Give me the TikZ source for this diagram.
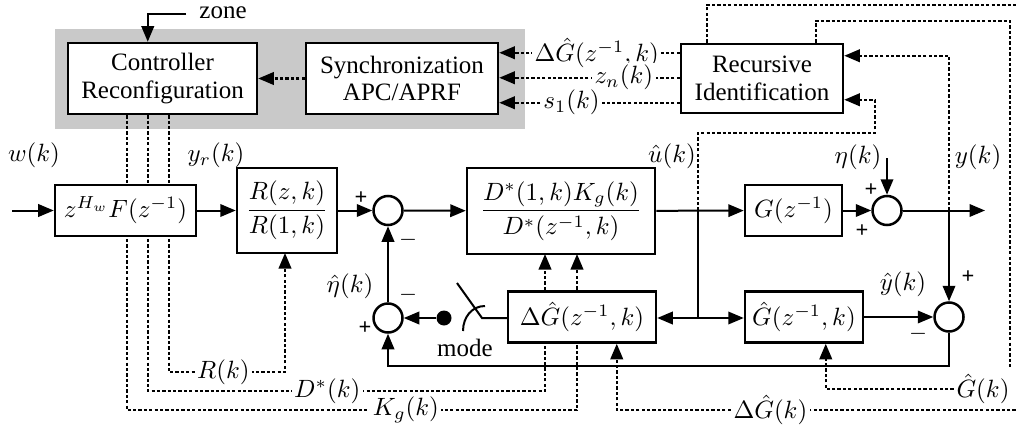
\documentclass[tikz,border=0pt]{standalone}
\usepackage{amsmath}
\usepackage{fontspec}
\setmainfont{Liberation Serif}
\usetikzlibrary{arrows.meta,calc}

\tikzset{
  blk/.style={draw, line width=1pt, fill=white, inner sep=1pt, align=center},
  sumnode/.style={draw, circle, line width=1pt, fill=white, minimum size=11.6pt, inner sep=0pt},
  tipshape/.style={-{Triangle[length=6.2pt,width=5pt]}},
  sig/.style={line width=0.8pt, tipshape},
  wire/.style={line width=0.8pt},
  dwire/.style={line width=0.85pt, dash pattern=on 1.3pt off 0.85pt},
  dsig/.style={dwire, tipshape},
  lab/.style={inner sep=1pt, font=\fontsize{10pt}{12pt}\selectfont},
  cutlab/.style={lab, fill=white},
  sgn/.style={inner sep=0pt, font=\fontsize{9pt}{10pt}\selectfont\bfseries},
}

\begin{document}
\begin{tikzpicture}[x=0.4pt, y=-0.4pt, font=\fontsize{10pt}{12pt}\selectfont]
\useasboundingbox (0,0) rectangle (1017,426);
\clip (0,0) rectangle (1017,426);

% supervisory zone
\fill[gray!42] (55,29) rectangle (525,129);

% upper blocks
\node[blk, minimum width=75.6pt, minimum height=28.4pt] (ctrl) at (162.5,78.5) {Controller\\[-1pt]Reconfiguration};
\node[blk, minimum width=76.8pt, minimum height=28.4pt] (sync) at (402,78.5) {Synchronization\\[-1pt]APC/APRF};
\node[blk, minimum width=64.8pt, minimum height=27.6pt] (rec) at (762,78.5) {Recursive\\[-1pt]Identification};

% junction and helper points
\coordinate (in)   at (12,210.5);
\coordinate (out)  at (985,210.5);
\coordinate (ju)   at (698,210.5);
\coordinate (jl)   at (698,318);
\coordinate (jy)   at (949,210.5);
\coordinate (etain) at (887,158);
\coordinate (zonept) at (186,14);
\coordinate (fbl)  at (388,366);
\coordinate (pivot) at (482,318);
\coordinate (tip)  at (457,283);
\coordinate (cu1)  at (875,133);
\coordinate (cTR)  at (1021,5);
\coordinate (cBR)  at (1021,410);
\coordinate (cG1)  at (1010,21);
\coordinate (cG2)  at (1010,367);
\coordinate (cR)   at (285,372);
\coordinate (cD)   at (545,391);
\coordinate (cK)   at (577,410);

% dashed signals from the controller (drawn below the blocks they pass behind)
\draw[dsig] ($(ctrl.south west)+(102,0)$) |- node[pos=0.735, cutlab] {$R(k)$} (cR) -- (cR |- 0,253);
\draw[dsig] ($(ctrl.south west)+(81,0)$) |- node[pos=0.726, cutlab] {$D^{*}(k)$} (cD) -- (cD |- 0,254);
\draw[dsig] ($(ctrl.south west)+(60,0)$) |- node[pos=0.81, cutlab] {$K_g(k)$} (cK) -- (cK |- 0,254);

% main blocks
\node[blk, minimum width=56.4pt, minimum height=20.4pt] (F) at (125.5,210.5) {$z^{H_w}F(z^{-1})$};
\node[blk, minimum width=40pt, minimum height=34pt] (R) at (287,210.5) {$\dfrac{R(z,k)}{R(1,k)}$};
\node[sumnode] (s1) at (388,210.5) {};
\node[blk, minimum width=75.2pt, minimum height=34.4pt] (D) at (561,211) {$\dfrac{D^{*}(1,k)K_g(k)}{D^{*}(z^{-1},k)}$};
\node[blk, minimum width=38.8pt, minimum height=20.4pt] (G) at (793.5,210.5) {$G(z^{-1})$};
\node[sumnode] (s2) at (887,210.5) {};
\node[blk, minimum width=59.2pt, minimum height=20.4pt] (dG) at (582,317) {$\Delta\hat{G}(z^{-1},k)$};
\node[blk, minimum width=47.2pt, minimum height=20.4pt] (Gh) at (804,317) {$\hat{G}(z^{-1},k)$};
\node[sumnode] (s3) at (949,317) {};
\node[sumnode] (s4) at (388,318) {};
\node[circle, fill, minimum size=6pt, inner sep=0pt] (dot) at (444,318) {};

% solid signal flow
\draw[sig] (in) -- (F);
\draw[sig] (F) -- (R);
\draw[sig] (R) -- (s1);
\draw[sig] (s1) -- (D);
\draw[sig] (D) -- (G);
\draw[sig] (G) -- (s2);
\draw[sig] (s2) -- (out);
\draw[sig] (etain) -- (s2.north);
\draw[sig] (jy) -- (s3.north);
\draw[wire] (ju) -- (jl);
\draw[sig] (jl) -- (dG.east |- jl);
\draw[sig] (jl) -- (Gh.west |- jl);
\draw[sig] (Gh) -- (s3);
\draw[sig] (s3.south) |- (fbl) -- (s4.south);
\draw[sig] (s4.north) -- (s1.south);
\draw[sig] (dot) -- (s4.east);

% mode switch: contact lever and its pivot arc
\draw[wire] (dG.west |- pivot) -- (pivot) -- (tip);
\draw[wire] (463,331) .. controls (463,317) and (472,306) .. (485,306);

% zone input
\draw[sig] (zonept) -| ($(ctrl.north west)+(81,0)$);

% supervisory dashed signals
\draw[dsig] (sync) -- (ctrl);
\draw[dsig] ($(rec.north west)+(0,10)$) -- node[pos=0.46, cutlab] {$\Delta\hat{G}(z^{-1},k)$} ($(sync.north east)+(0,11)$);
\draw[dsig] ($(rec.north west)+(0,35)$) -- node[pos=0.31, cutlab] {$z_n(k)$} ($(sync.north east)+(0,36)$);
\draw[dsig] ($(rec.north west)+(0,60)$) -- node[pos=0.6, cutlab] {$s_1(k)$} ($(sync.north east)+(0,61)$);

% identification inputs
\draw[dsig] (jy) |- ($(rec.north east)+(0,13)$);
\draw[dsig] (ju) |- (cu1) |- ($(rec.north east)+(0,57)$);

% identified models back to the loop
\draw[dwire] ($(rec.north west)+(27,0)$) |- (cTR) -- (cBR);
\draw[dsig] (cBR) -| node[pos=0.31, cutlab] {$\Delta\hat{G}(k)$} ($(dG.south west)+(110,0)$);
\draw[dwire] ($(rec.north west)+(136,0)$) |- (cG1) -- (cG2);
\node[lab] (lGk) at (983,389) {$\hat{G}(k)$};
\draw[dsig] (lGk.west) -| ($(Gh.south west)+(82,0)$);

% labels
\node[lab] at (223,13) {zone};
\node[lab] at (465,348) {mode};
\node[lab] at (34,155) {$w(k)$};
\node[lab] at (216,155) {$y_r(k)$};
\node[lab] at (672,156) {$\hat{u}(k)$};
\node[lab] at (858,157) {$\eta(k)$};
\node[lab] at (978,157) {$y(k)$};
\node[lab] at (903,284) {$\hat{y}(k)$};
\node[lab] at (350,286) {$\hat{\eta}(k)$};

% signs at the summing points
\node[sgn] at (361,198) {+};
\node[sgn] at (408,240) {$-$};
\node[sgn] at (408,295) {$-$};
\node[sgn] at (365,328) {+};
\node[sgn] at (871,190) {+};
\node[sgn] at (862,231) {+};
\node[sgn] at (968,277) {+};
\node[sgn] at (918,334) {$-$};
\end{tikzpicture}
\end{document}
